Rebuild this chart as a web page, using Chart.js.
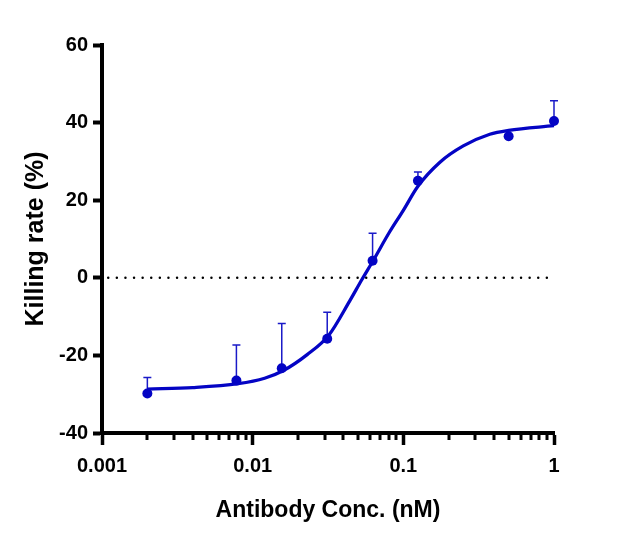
<!DOCTYPE html>
<html>
<head>
<meta charset="utf-8">
<script src="https://cdn.jsdelivr.net/npm/chart.js@4/dist/chart.umd.min.js"></script>
<style>
  html, body { margin:0; padding:0; background:#fff; }
  #wrap { width:624px; height:546px; }
</style>
</head>
<body>
<div id="wrap"><canvas id="c" width="624" height="546"></canvas></div>
<script>
// measured points (mean + upper SD)
const conc    = [0.002, 0.0078, 0.0156, 0.03125, 0.0625, 0.125, 0.5, 1];
const killing = [-29.8, -26.5, -23.3, -15.7, 4.4, 25.0, 36.5, 40.4];
const sdUp    = [4.1, 9.2, 11.5, 6.8, 7.1, 2.3, 0, 5.2];

// fitted curve
const fitX = [0.002, 0.004, 0.008, 0.012, 0.016, 0.023, 0.032, 0.044, 0.053, 0.063, 0.081, 0.1, 0.125, 0.175, 0.25, 0.375, 0.5, 1];
const fitY = [-28.7, -28.3, -27.3, -25.9, -23.9, -19.8, -14.8, -6.0, -0.5, 4.4, 11.8, 17.4, 23.6, 29.8, 34.0, 37.0, 38.0, 39.2];

// dotted zero line ends
const zeroX = [0.0011, 0.98];
const zeroY = [0, 0];

const xTicks = [0.001, 0.01, 0.1, 1];
const xTickLabels = ["0.001", "0.01", "0.1", "1"];
const yTicks = [-40, -20, 0, 20, 40, 60];

const BLUE = "#0404c4";
const FONT = "'Liberation Sans', Arial, sans-serif";

const pts = (xs, ys) => xs.map((x, i) => ({ x, y: ys[i] }));

// upper error bars with caps
const errorBars = {
  id: "errorBars",
  beforeDatasetsDraw(chart){
    const { ctx, scales:{ x, y } } = chart;
    ctx.save();
    ctx.strokeStyle = "#1a1ac8";
    ctx.lineWidth = 1.5;
    conc.forEach((c, i) => {
      if (!sdUp[i]) return;
      const px = x.getPixelForValue(c);
      const y0 = y.getPixelForValue(killing[i]);
      const y1 = y.getPixelForValue(killing[i] + sdUp[i]);
      ctx.beginPath();
      ctx.moveTo(px, y0); ctx.lineTo(px, y1);
      ctx.moveTo(px - 4, y1); ctx.lineTo(px + 4, y1);
      ctx.stroke();
    });
    ctx.restore();
  }
};

// minor log ticks on x
const minorTicks = {
  id: "minorTicks",
  afterDraw(chart){
    const { ctx, scales:{ x }, chartArea } = chart;
    ctx.save();
    ctx.strokeStyle = "#000";
    ctx.lineWidth = 3;
    for (let d = 0; d < xTicks.length - 1; d++){
      for (let k = 2; k <= 9; k++){
        const px = Math.round(x.getPixelForValue(xTicks[d] * k));
        ctx.beginPath();
        ctx.moveTo(px, chartArea.bottom);
        ctx.lineTo(px, chartArea.bottom + 7);
        ctx.stroke();
      }
    }
    ctx.restore();
  }
};

new Chart(document.getElementById("c"), {
  type: "scatter",
  data: {
    datasets: [
      { data: pts(zeroX, zeroY), showLine:true, borderColor:"#000", borderWidth:2.5,
        borderDash:[0, 8.6], borderCapStyle:"round", pointRadius:0 },
      { data: pts(fitX, fitY), showLine:true, borderColor:BLUE, borderWidth:3.3,
        cubicInterpolationMode:"monotone", pointRadius:0, clip:false },
      { data: pts(conc, killing), showLine:false, pointRadius:5, clip:false,
        backgroundColor:BLUE, borderColor:BLUE, borderWidth:0 },
    ],
  },
  options: {
    responsive:false, animation:false,
    layout:{ padding:{ top:45, right:70, left:0, bottom:0 } },
    plugins:{ legend:{ display:false }, tooltip:{ enabled:false } },
    scales:{
      x:{
        type:"logarithmic", min:0.001, max:1,
        afterBuildTicks: s => { s.ticks = xTicks.map(v => ({ value:v })); },
        afterFit: s => { s.height = 113; },
        border:{ display:true, width:4, color:"#000" },
        grid:{ drawOnChartArea:false, drawTicks:true, tickLength:12, tickWidth:3.5, tickColor:"#000" },
        ticks:{ color:"#000", padding:9, maxRotation:0, autoSkip:false,
          font:{ family:FONT, size:20, weight:"bold" },
          callback: v => xTickLabels[xTicks.indexOf(v)] ?? "" },
        title:{ display:true, text:"Antibody Conc. (nM)", color:"#000", padding:{ top:0, bottom:22 },
          font:{ family:FONT, size:23, weight:"bold" } },
      },
      y:{
        min:-40, max:60,
        afterBuildTicks: s => { s.ticks = yTicks.map(v => ({ value:v })); },
        afterFit: s => { s.width = 102; },
        border:{ display:true, width:4, color:"#000" },
        grid:{ drawOnChartArea:false, drawTicks:true, tickLength:9, tickWidth:4, tickColor:"#000" },
        ticks:{ color:"#000", padding:5,
          font:{ family:FONT, size:20, weight:"bold" } },
        title:{ display:true, text:"Killing rate (%)", color:"#000", padding:{ top:21 },
          font:{ family:FONT, size:25, weight:"bold" } },
      },
    },
  },
  plugins:[errorBars, minorTicks],
});
</script>
</body>
</html>
